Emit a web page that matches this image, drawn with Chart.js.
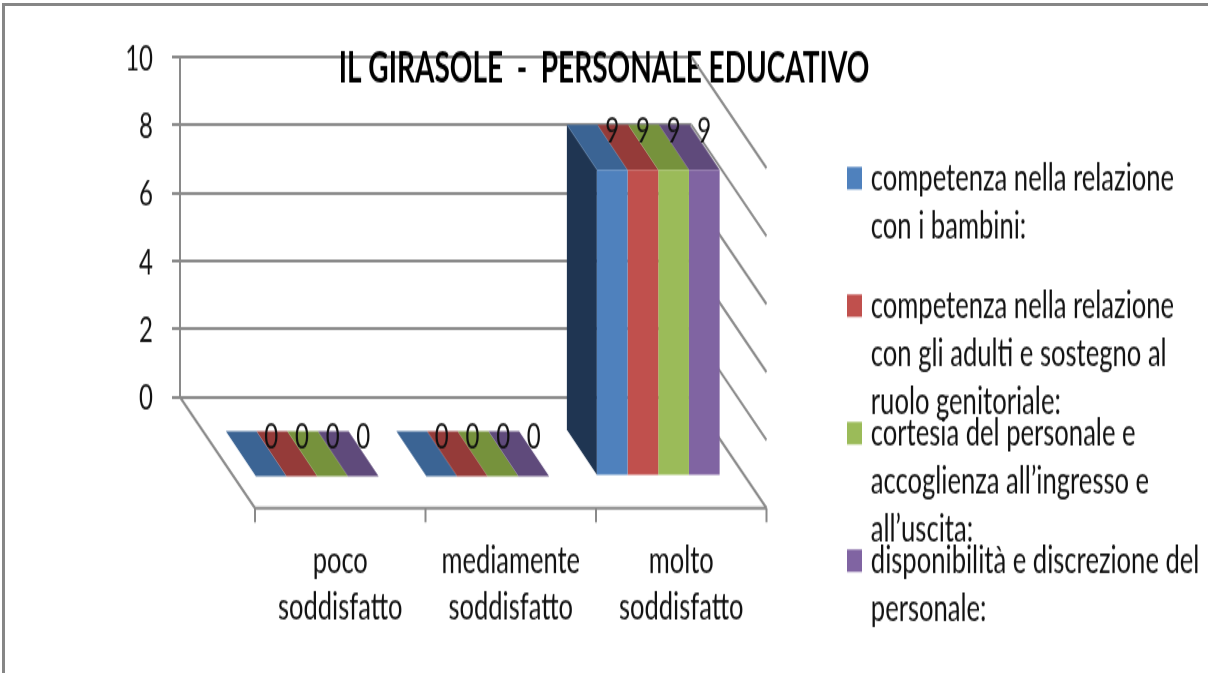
<!DOCTYPE html>
<html>
<head>
<meta charset="utf-8">
<title>IL GIRASOLE - PERSONALE EDUCATIVO</title>
<script src="https://cdn.jsdelivr.net/npm/chart.js@4"></script>
<style>
    html, body { margin: 0; padding: 0; background: #fff; overflow: hidden; }
    /* il grafico originale e' stirato in verticale: canvas basso, poi scaleY */
    #grafico { position: absolute; left: 0; top: 0; transform: scaleY(1.5); transform-origin: 0 0; }
    #cornice { position: absolute; left: 2px; top: 3px; width: 1206px; height: 667px;
               border-top: 3px solid #868686; border-left: 3px solid #868686; border-bottom: 1px solid #dcdcdc; }
</style>
</head>
<body>
<canvas id="grafico" width="1208" height="449"></canvas>
<div id="cornice"></div>
<script>
const titolo = 'IL GIRASOLE  -  PERSONALE EDUCATIVO';
const categorie = [['poco', 'soddisfatto'], ['mediamente', 'soddisfatto'], ['molto', 'soddisfatto']];
const tickY = [0, 2, 4, 6, 8, 10];

const nomeBambini = ['competenza nella relazione', 'con i bambini:', ''];
const nomeAdulti = ['competenza nella relazione', 'con gli adulti e sostegno al', 'ruolo genitoriale:'];
const nomeCortesia = ['cortesia del personale e', 'accoglienza all’ingresso e', 'all’uscita:'];
const nomeDiscrezione = ['disponibilità e discrezione del', 'personale:'];

const valoriBambini = [0, 0, 9];
const valoriAdulti = [0, 0, 9];
const valoriCortesia = [0, 0, 9];
const valoriDiscrezione = [0, 0, 9];

const coloriFronte = ['#4F81BD', '#C0504D', '#9BBB59', '#8064A2'];
const coloriSopra = ['#3B6494', '#953B39', '#76923C', '#5F4A7B'];
const coloreLato = '#1F3552';
const grigio = '#8A8A8A';

const FONT = 'Lato';
const H = 449;
const PROF_X = 75, PROF_Y = 74;       // profondita' del pavimento
const BAR_DX = 52, BAR_DY = 52.7;     // spostamento delle barre verso il davanti
const TOP_DX = 30, TOP_DY = 30;       // profondita' delle barre
const PAD_DESTRA = 216.5;

function linea(ctx, x1, y1, x2, y2) {
    ctx.beginPath();
    ctx.moveTo(x1, y1);
    ctx.lineTo(x2, y2);
    ctx.stroke();
}

function parallelogramma(ctx, punti, colore) {
    ctx.fillStyle = colore;
    ctx.beginPath();
    punti.forEach((p, i) => i ? ctx.lineTo(p[0], p[1]) : ctx.moveTo(p[0], p[1]));
    ctx.closePath();
    ctx.fill();
}

const vista3d = {
    id: 'vista3d',
    afterLayout(chart) {
        // legenda spostata a destra, sovrapposta come nell'originale
        const leg = chart.legend;
        leg.left = 851 - leg.options.labels.padding;
        leg.top = 106 - leg.options.labels.padding;
        leg.bottom = 2000;
        leg.draw = () => leg._draw();   // senza il clip del box: il padding e' negativo
        // titolo centrato su tutta la pagina
        chart.titleBlock.right += PAD_DESTRA;
    },
    beforeDatasetsDraw(chart) {
        const { ctx, scales: { x, y } } = chart;
        ctx.save();
        ctx.strokeStyle = grigio;
        ctx.lineWidth = 2;
        // pareti laterali
        tickY.forEach(v => {
            const py = y.getPixelForValue(v);
            linea(ctx, x.right, py, x.right + PROF_X, py + PROF_Y);
        });
        // pavimento
        const fondo = y.getPixelForValue(0);
        linea(ctx, x.left, fondo, x.left + PROF_X, fondo + PROF_Y);
        linea(ctx, x.left + PROF_X, fondo + PROF_Y, x.right + PROF_X, fondo + PROF_Y);
        const passo = x.width / categorie.length;
        for (let i = 0; i <= categorie.length; i++) {
            const px = x.left + PROF_X + i * passo;
            linea(ctx, px, fondo + PROF_Y, px, fondo + PROF_Y + 9.5);
        }
        // facce superiori e laterali
        chart.data.datasets.forEach((ds, d) => {
            chart.getDatasetMeta(d).data.forEach(bar => {
                const l = bar.x - bar.width / 2 + BAR_DX, r = bar.x + bar.width / 2 + BAR_DX;
                const t = bar.y + BAR_DY, b = bar.base + BAR_DY;
                if (d === 0 && b > t) {
                    parallelogramma(ctx, [[l, t], [l - TOP_DX, t - TOP_DY], [l - TOP_DX, b - TOP_DY], [l, b]], coloreLato);
                }
                parallelogramma(ctx, [[l, t], [r, t], [r - TOP_DX, t - TOP_DY], [l - TOP_DX, t - TOP_DY]], coloriSopra[d]);
            });
        });
        ctx.restore();
        // le barre native vengono disegnate spostate verso il davanti
        ctx.save();
        ctx.translate(BAR_DX, BAR_DY);
    },
    afterDatasetsDraw(chart) {
        const { ctx } = chart;
        ctx.restore();
        ctx.save();
        ctx.fillStyle = '#111';
        ctx.font = '24px ' + FONT;
        ctx.textAlign = 'center';
        ctx.textBaseline = 'middle';
        chart.data.datasets.forEach((ds, d) => {
            chart.getDatasetMeta(d).data.forEach((bar, i) => {
                ctx.fillText(ds.data[i], bar.x + BAR_DX, bar.y + BAR_DY - TOP_DY + 3.5);
            });
        });
        ctx.restore();
    }
};

const ctx = document.getElementById('grafico').getContext('2d');
new Chart(ctx, {
    type: 'bar',
    data: {
        labels: categorie,
        datasets: [
            { label: nomeBambini, data: valoriBambini, backgroundColor: coloriFronte[0] },
            { label: nomeAdulti, data: valoriAdulti, backgroundColor: coloriFronte[1] },
            { label: nomeCortesia, data: valoriCortesia, backgroundColor: coloriFronte[2] },
            { label: nomeDiscrezione, data: valoriDiscrezione, backgroundColor: coloriFronte[3] }
        ]
    },
    options: {
        responsive: false,
        animation: false,
        devicePixelRatio: 1,
        clip: false,
        categoryPercentage: 0.72,
        barPercentage: 1,
        layout: { padding: { top: 38, right: PAD_DESTRA, bottom: 0, left: 0 } },
        scales: {
            x: {
                afterFit(scale) { scale.height = H - 264.7; },
                border: { display: false },
                grid: { display: false },
                ticks: {
                    autoSkip: false,
                    maxRotation: 0,
                    labelOffset: PROF_X,
                    padding: 86,
                    color: '#111',
                    font: { family: FONT, size: 25.5, lineHeight: 30.7 / 25.5 }
                }
            },
            y: {
                min: 0,
                max: 10,
                afterFit(scale) { scale.width = 180; },
                border: { color: grigio, width: 2 },
                grid: { color: grigio, lineWidth: 2, tickLength: 8 },
                ticks: {
                    stepSize: 2,
                    padding: 19,
                    labelOffset: 1,
                    color: '#111',
                    font: { family: FONT, size: 24 }
                }
            }
        },
        plugins: {
            tooltip: { enabled: false },
            title: {
                display: true,
                text: titolo,
                color: '#000',
                font: { family: FONT, size: 28, weight: 'bold', lineHeight: 1.2 },
                padding: { top: -9, bottom: -24.6 }
            },
            legend: {
                position: 'right',
                align: 'start',
                maxWidth: 300,
                labels: {
                    // quadratino da 15px: riempimento stretto + bordo, per tenere il testo vicino
                    boxWidth: 7,
                    boxHeight: 7,
                    padding: -11,
                    color: '#111',
                    font: { family: FONT, size: 25.6, lineHeight: 32 / 25.6 },
                    generateLabels(chart) {
                        return Chart.defaults.plugins.legend.labels.generateLabels(chart).map(item => {
                            item.strokeStyle = item.fillStyle;
                            item.lineWidth = 8;
                            return item;
                        });
                    }
                }
            }
        }
    },
    plugins: [vista3d]
});
</script>
</body>
</html>
